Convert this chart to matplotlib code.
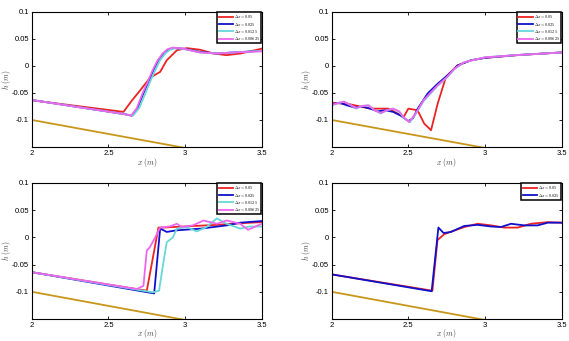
import matplotlib
matplotlib.use("Agg")
import matplotlib.pyplot as plt

plt.rcParams["font.family"] = "Liberation Sans"
plt.rcParams["mathtext.fontset"] = "cm"

RED = "#ee2222"
BLUE = "#1010cc"
CYAN = "#66d8d8"
MAGENTA = "#ee66ee"
BED = "#c8961a"

dx_labels = [r"$\Delta x = 0.05$", r"$\Delta x = 0.025$", r"$\Delta x = 0.0125$", r"$\Delta x = 0.00625$"]

bed_x = [2.0, 3.5]
bed_h = [-0.1, -0.1777]

# top left
tl_red_x = [2.0, 2.598, 2.65, 2.707, 2.772, 2.837, 2.88, 2.946, 3.01, 3.098, 3.185, 3.27, 3.36, 3.5]
tl_red_h = [-0.0636, -0.085, -0.065, -0.045, -0.0216, -0.011, 0.0105, 0.029, 0.033, 0.030, 0.023, 0.020, 0.023, 0.032]
tl_blue_x = [2.0, 2.6, 2.652, 2.69, 2.728, 2.76, 2.793, 2.825, 2.859, 2.89, 2.924, 2.99, 3.098, 3.207, 3.315, 3.5]
tl_blue_h = [-0.063, -0.089, -0.092, -0.078, -0.051, -0.03, -0.008, 0.01, 0.023, 0.030, 0.033, 0.032, 0.026, 0.023, 0.025, 0.028]
tl_cyan_x = [2.0, 2.6, 2.66, 2.7, 2.74, 2.77, 2.805, 2.835, 2.87, 2.9, 2.935, 3.0, 3.1, 3.207, 3.315, 3.5]
tl_cyan_h = [-0.063, -0.089, -0.092, -0.078, -0.051, -0.03, -0.008, 0.01, 0.023, 0.030, 0.033, 0.031, 0.025, 0.023, 0.025, 0.028]
tl_mag_x = [2.0, 2.6, 2.648, 2.685, 2.722, 2.755, 2.788, 2.82, 2.853, 2.885, 2.92, 2.985, 3.095, 3.207, 3.315, 3.5]
tl_mag_h = [-0.063, -0.089, -0.092, -0.078, -0.051, -0.03, -0.008, 0.01, 0.023, 0.031, 0.034, 0.032, 0.025, 0.023, 0.025, 0.027]

# top right
tr_red_x = [2.0, 2.12, 2.2, 2.25, 2.3, 2.37, 2.43, 2.47, 2.5, 2.56, 2.604, 2.648, 2.691, 2.746, 2.82, 2.909, 3.0, 3.213, 3.5]
tr_red_h = [-0.068, -0.071, -0.076, -0.079, -0.079, -0.079, -0.088, -0.094, -0.079, -0.082, -0.107, -0.119, -0.07, -0.02, 0.001, 0.0105, 0.015, 0.020, 0.025]
tr_blue_x = [2.0, 2.05, 2.1, 2.15, 2.2, 2.25, 2.3, 2.35, 2.4, 2.45, 2.5, 2.53, 2.561, 2.626, 2.691, 2.757, 2.822, 2.909, 3.0, 3.2, 3.5]
tr_blue_h = [-0.071, -0.068, -0.073, -0.077, -0.075, -0.079, -0.084, -0.082, -0.085, -0.092, -0.102, -0.097, -0.079, -0.051, -0.033, -0.017, 0.001, 0.0105, 0.015, 0.020, 0.025]
tr_cyan_x = [2.0, 2.04, 2.08, 2.12, 2.16, 2.2, 2.24, 2.28, 2.32, 2.36, 2.4, 2.44, 2.47, 2.51, 2.55, 2.6, 2.69, 2.757, 2.8, 2.865, 3.0, 3.2, 3.5]
tr_cyan_h = [-0.073, -0.069, -0.066, -0.072, -0.079, -0.074, -0.073, -0.082, -0.088, -0.082, -0.079, -0.085, -0.096, -0.104, -0.088, -0.065, -0.037, -0.02, -0.006, 0.007, 0.016, 0.020, 0.025]
tr_mag_x = [2.0, 2.04, 2.08, 2.12, 2.16, 2.2, 2.24, 2.28, 2.32, 2.36, 2.4, 2.44, 2.47, 2.505, 2.55, 2.6, 2.69, 2.757, 2.8, 2.865, 3.0, 3.2, 3.5]
tr_mag_h = [-0.072, -0.069, -0.066, -0.072, -0.078, -0.074, -0.073, -0.082, -0.087, -0.082, -0.079, -0.084, -0.095, -0.104, -0.087, -0.063, -0.036, -0.019, -0.005, 0.007, 0.016, 0.020, 0.025]

# bottom left
bl_red_x = [2.0, 2.75, 2.826, 2.858, 2.99, 3.207, 3.36, 3.5]
bl_red_h = [-0.064, -0.098, 0.018, 0.018, 0.020, 0.023, 0.026, 0.028]
bl_blue_x = [2.0, 2.798, 2.837, 2.86, 2.88, 2.946, 3.1, 3.27, 3.36, 3.5]
bl_blue_h = [-0.064, -0.103, 0.016, 0.013, 0.010, 0.013, 0.016, 0.022, 0.027, 0.030]
bl_cyan_x = [2.0, 2.79, 2.83, 2.86, 2.88, 2.92, 2.946, 3.01, 3.076, 3.14, 3.207, 3.27, 3.36, 3.42, 3.5]
bl_cyan_h = [-0.064, -0.101, -0.098, -0.043, -0.009, 0.0, 0.016, 0.019, 0.011, 0.019, 0.035, 0.025, 0.016, 0.020, 0.020]
bl_mag_x = [2.0, 2.685, 2.728, 2.75, 2.77, 2.805, 2.837, 2.9, 2.946, 2.978, 3.05, 3.12, 3.207, 3.27, 3.36, 3.41, 3.5]
bl_mag_h = [-0.064, -0.095, -0.089, -0.024, -0.018, 0.0, 0.018, 0.020, 0.025, 0.019, 0.022, 0.031, 0.025, 0.031, 0.025, 0.014, 0.025]

# bottom right
br_red_x = [2.0, 2.657, 2.69, 2.735, 2.865, 2.952, 3.04, 3.126, 3.213, 3.3, 3.41, 3.5]
br_red_h = [-0.068, -0.098, -0.005, 0.006, 0.019, 0.025, 0.022, 0.018, 0.018, 0.025, 0.028, 0.027]
br_blue_x = [2.0, 2.652, 2.696, 2.73, 2.778, 2.865, 2.952, 3.039, 3.104, 3.17, 3.257, 3.343, 3.41, 3.5]
br_blue_h = [-0.068, -0.099, 0.018, 0.008, 0.010, 0.021, 0.023, 0.020, 0.019, 0.025, 0.022, 0.022, 0.027, 0.027]

panels = [
    ([0.056, 0.569, 0.404, 0.396], -0.118,
     [(tl_red_x, tl_red_h, RED), (tl_blue_x, tl_blue_h, BLUE), (tl_cyan_x, tl_cyan_h, CYAN), (tl_mag_x, tl_mag_h, MAGENTA)]),
    ([0.583, 0.569, 0.404, 0.396], -0.118,
     [(tr_red_x, tr_red_h, RED), (tr_blue_x, tr_blue_h, BLUE), (tr_cyan_x, tr_cyan_h, CYAN), (tr_mag_x, tr_mag_h, MAGENTA)]),
    ([0.056, 0.0645, 0.404, 0.399], -0.108,
     [(bl_red_x, bl_red_h, RED), (bl_blue_x, bl_blue_h, BLUE), (bl_cyan_x, bl_cyan_h, CYAN), (bl_mag_x, bl_mag_h, MAGENTA)]),
    ([0.583, 0.0645, 0.404, 0.399], -0.108,
     [(br_red_x, br_red_h, RED), (br_blue_x, br_blue_h, BLUE)]),
]

fig = plt.figure(figsize=(5.69, 3.41), dpi=100)
for rect, xlabel_y, curves in panels:
    axis = fig.add_axes(rect)
    for (x, h, color), label in zip(curves, dx_labels):
        axis.plot(x, h, color=color, linewidth=1.3, label=label)
    axis.plot(bed_x, bed_h, color=BED, linewidth=1.3)
    axis.set_xlim(2, 3.5)
    axis.set_ylim(-0.15, 0.1)
    axis.set_xticks([2, 2.5, 3, 3.5], labels=["2", "2.5", "3", "3.5"])
    axis.set_yticks([-0.1, -0.05, 0, 0.05, 0.1], labels=["-0.1", "-0.05", "0", "0.05", "0.1"])
    axis.tick_params(direction="in", top=True, right=True, length=2.5, width=0.6, labelsize=5.5, pad=2)
    for spine in axis.spines.values():
        spine.set_linewidth(0.8)
    axis.set_xlabel(r"$x\ (m)$", fontsize=5.5, color="#444444", va="center")
    axis.set_ylabel(r"$h\ (m)$", fontsize=5.5, color="#444444", va="center")
    axis.xaxis.set_label_coords(0.5, xlabel_y)
    axis.yaxis.set_label_coords(-0.11, 0.5)
    legend = axis.legend(loc="upper right", fontsize=3.0, handlelength=3.4, borderpad=0.25,
                         labelspacing=0.05, handletextpad=0.4, fancybox=False,
                         borderaxespad=0.1, framealpha=1)
    legend.get_frame().set_edgecolor("black")
    legend.get_frame().set_linewidth(1.1)

fig.savefig("out.png", dpi=100)
